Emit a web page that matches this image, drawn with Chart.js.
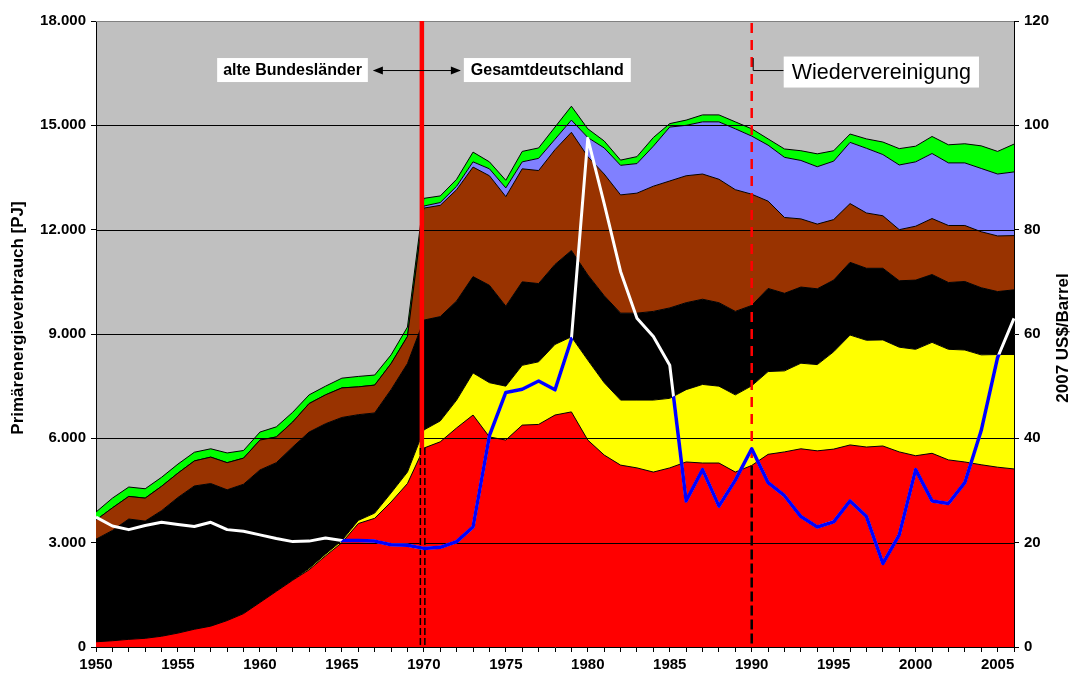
<!DOCTYPE html>
<html>
<head>
<meta charset="utf-8">
<title>Primärenergieverbrauch Deutschland 1950-2006</title>
<script src="https://cdn.jsdelivr.net/npm/chart.js@4.4.0/dist/chart.umd.min.js"></script>
<style>
  html, body { margin: 0; padding: 0; background: #fff; }
  canvas { display: block; }
</style>
</head>
<body>
<canvas id="energyChart" width="1077" height="678"></canvas>
<script>
const years = [
  1950, 1951, 1952, 1953, 1954, 1955, 1956, 1957, 1958, 1959,
  1960, 1961, 1962, 1963, 1964, 1965, 1966, 1967, 1968, 1969,
  1970, 1971, 1972, 1973, 1974, 1975, 1976, 1977, 1978, 1979,
  1980, 1981, 1982, 1983, 1984, 1985, 1986, 1987, 1988, 1989,
  1990, 1991, 1992, 1993, 1994, 1995, 1996, 1997, 1998, 1999,
  2000, 2001, 2002, 2003, 2004, 2005, 2006
];

// PJ per energy source (stacked from the bottom)
const oil = [
  150, 180, 220, 250, 310, 400, 510, 600, 760, 960,
  1280, 1600, 1920, 2220, 2620, 3000, 3550, 3700, 4170, 4700,
  5720, 5900, 6300, 6670, 6040, 5950, 6380, 6400, 6670, 6760,
  5950, 5520, 5230, 5150, 5030, 5150, 5320, 5290, 5290, 5030,
  5220, 5540, 5610, 5700, 5640, 5690, 5810, 5750, 5780, 5610,
  5500, 5570, 5380, 5320, 5240, 5170, 5120
];
const gas = [
  0, 0, 0, 0, 0, 0, 0, 0, 0, 0,
  0, 0, 10, 40, 50, 60, 90, 150, 260, 330,
  520, 600, 800, 1210, 1560, 1550, 1720, 1800, 2030, 2160,
  2300, 2080, 1870, 1950, 2070, 2000, 2080, 2260, 2210, 2220,
  2290, 2380, 2330, 2460, 2480, 2800, 3160, 3070, 3050, 3010,
  3060, 3190, 3180, 3220, 3160, 3240, 3290
];
const hardCoal = [
  2950, 3170, 3460, 3370, 3610, 3900, 4120, 4100, 3760, 3720,
  3810, 3700, 3820, 3920, 3750, 3540, 3040, 2880, 2970, 3120,
  3160, 3000, 2850, 2770, 2800, 2300, 2400, 2250, 2300, 2480,
  2450, 2500, 2500, 2500, 2550, 2600, 2500, 2450, 2400, 2400,
  2310, 2390, 2230, 2190, 2180, 2060, 2090, 2070, 2060, 1910,
  1990, 1950, 1920, 1970, 1930, 1810, 1860
];
const lignite = [
  550, 650, 650, 660, 700, 700, 720, 760, 780, 750,
  860, 740, 720, 820, 830, 850, 800, 800, 750, 780,
  3220, 3200, 3200, 3150, 3150, 3150, 3250, 3250, 3300, 3400,
  3400, 3500, 3400, 3450, 3600, 3650, 3650, 3600, 3550, 3500,
  3200, 2510, 2180, 1960, 1860, 1740, 1690, 1590, 1510, 1470,
  1550, 1610, 1640, 1610, 1610, 1600, 1560
];
const nuclear = [
  0, 0, 0, 0, 0, 0, 0, 0, 0, 0,
  0, 0, 0, 0, 0, 0, 0, 0, 0, 0,
  60, 80, 100, 150, 200, 250, 200, 350, 300, 350,
  550, 750, 850, 850, 1150, 1550, 1450, 1500, 1650, 1750,
  1670, 1610, 1730, 1680, 1650, 1680, 1760, 1860, 1760, 1860,
  1850, 1870, 1800, 1800, 1820, 1780, 1830
];
const other = [
  230, 280, 270, 270, 260, 260, 250, 240, 280, 220,
  230, 290, 280, 250, 250, 280, 300, 290, 250, 270,
  220, 190, 200, 280, 200, 220, 300, 300, 350, 400,
  250, 200, 150, 200, 250, 100, 150, 200, 200, 200,
  210, 180, 240, 280, 370, 300, 240, 270, 360, 470,
  450, 490, 520, 550, 650, 650, 800
];
// Ölpreis in 2007 US$/Barrel (right axis)
const oilPrice = [
  24.9, 23.2, 22.5, 23.3, 23.9, 23.5, 23.1, 23.9, 22.5, 22.2,
  21.5, 20.8, 20.2, 20.3, 20.9, 20.4, 20.4, 20.3, 19.6, 19.5,
  18.9, 19.1, 20.2, 23.0, 40.5, 48.8, 49.4, 51.0, 49.3, 59.0,
  97.5, 85.0, 72.0, 63.0, 59.5, 54.0, 28.0, 34.0, 27.0, 32.0,
  38.0, 31.5, 29.0, 25.0, 23.0, 24.0, 28.0, 25.0, 16.0, 21.5,
  34.0, 28.0, 27.5, 31.5, 41.5, 55.5, 63.0
];

const pjTicks = [0, 3000, 6000, 9000, 12000, 15000, 18000];
const priceTicks = [0, 20, 40, 60, 80, 100, 120];

const layerNames = ['Mineralöl', 'Erdgas', 'Steinkohle', 'Braunkohle', 'Kernenergie', 'Sonstige'];
const layerData = [oil, gas, hardCoal, lignite, nuclear, other];
const layerColors = ['#ff0000', '#ffff00', '#000000', '#993300', '#8080ff', '#00ff00'];

const FONT = "'Liberation Sans', Arial, sans-serif";

function formatPJ(v) {
  return String(v).replace(/\B(?=(\d{3})+(?!\d))/g, '.');
}

const datasets = layerData.map((d, i) => ({
  label: layerNames[i],
  data: d,
  yAxisID: 'y',
  backgroundColor: layerColors[i],
  borderColor: '#000',
  borderWidth: 1,
  fill: i === 0 ? 'origin' : '-1',
  pointRadius: 0,
  tension: 0,
  order: 2
}));

// same price series twice: white everywhere, blue where it runs over oil/gas
datasets.push({
  label: 'Ölpreis',
  data: oilPrice,
  yAxisID: 'y2',
  borderColor: '#ffffff',
  borderWidth: 3,
  borderJoinStyle: 'round',
  fill: false,
  pointRadius: 0,
  tension: 0,
  order: 1
});
datasets.push({
  label: 'Ölpreis (blau)',
  data: oilPrice,
  yAxisID: 'y2',
  borderColor: '#0000ff',
  borderWidth: 3.5,
  borderJoinStyle: 'round',
  fill: false,
  pointRadius: 0,
  tension: 0,
  order: 0
});

function textBox(ctx, text, font, x, y, align, padX, h) {
  ctx.font = font;
  const w = ctx.measureText(text).width + padX * 2;
  const left = align === 'right' ? x - w : x;
  ctx.fillStyle = '#fff';
  ctx.fillRect(left, y - h / 2, w, h);
  ctx.fillStyle = '#000';
  ctx.textAlign = 'center';
  ctx.textBaseline = 'middle';
  ctx.fillText(text, left + w / 2, y + 1);
  return left;
}

function arrowHead(ctx, x, y, dir) {
  ctx.beginPath();
  ctx.moveTo(x, y);
  ctx.lineTo(x - dir * 10, y - 4);
  ctx.lineTo(x - dir * 10, y + 4);
  ctx.closePath();
  ctx.fill();
}

const overlay = {
  id: 'overlay',
  beforeDraw(chart) {
    const {ctx, chartArea: a} = chart;
    ctx.save();
    ctx.fillStyle = '#c0c0c0';
    ctx.fillRect(a.left, a.top, a.right - a.left, a.bottom - a.top);
    ctx.restore();
  },
  beforeDatasetDraw(chart, args) {
    const {ctx, chartArea: a} = chart;
    const xs = chart.scales.x, ys = chart.scales.y;
    if (args.index === 6) {
      ctx.save();
      // gridlines over the areas
      pjTicks.forEach(v => {
        if (v === 0) return;
        const y = Math.round(ys.getPixelForValue(v)) + 0.5;
        ctx.strokeStyle = v === pjTicks[pjTicks.length - 1] ? '#808080' : '#000';
        ctx.lineWidth = 1;
        ctx.beginPath();
        ctx.moveTo(a.left, y);
        ctx.lineTo(a.right, y);
        ctx.stroke();
      });
      const oilMeta = chart.getDatasetMeta(0).data;
      // 1970: alte Bundesländer -> Gesamtdeutschland
      const i70 = years.indexOf(1970);
      const x70 = xs.getPixelForValue(i70);
      ctx.strokeStyle = '#ff0000';
      ctx.lineWidth = 4.5;
      ctx.beginPath();
      ctx.moveTo(x70 - 2, a.top);
      ctx.lineTo(x70 - 2, a.bottom);
      ctx.stroke();
      ctx.strokeStyle = '#000';
      ctx.lineWidth = 1.5;
      ctx.setLineDash([7, 3]);
      [-3.5, 1].forEach(dx => {
        ctx.beginPath();
        ctx.moveTo(x70 + dx, oilMeta[i70].y);
        ctx.lineTo(x70 + dx, a.bottom);
        ctx.stroke();
      });
      // 1990: Wiedervereinigung
      const i90 = years.indexOf(1990);
      const x90 = xs.getPixelForValue(i90);
      ctx.strokeStyle = '#ff0000';
      ctx.lineWidth = 2.5;
      ctx.setLineDash([10, 7]);
      ctx.beginPath();
      ctx.moveTo(x90, a.top + 2);
      ctx.lineTo(x90, oilMeta[i90].y);
      ctx.stroke();
      ctx.strokeStyle = '#000';
      ctx.setLineDash([10, 4]);
      ctx.beginPath();
      ctx.moveTo(x90, oilMeta[i90].y);
      ctx.lineTo(x90, a.bottom);
      ctx.stroke();
      ctx.restore();
    }
    if (args.index === 7) {
      const pts = chart.getDatasetMeta(1).data;
      ctx.save();
      ctx.beginPath();
      ctx.moveTo(pts[0].x, a.bottom);
      pts.forEach(p => ctx.lineTo(p.x, p.y));
      ctx.lineTo(pts[pts.length - 1].x, a.bottom);
      ctx.closePath();
      ctx.clip();
    }
  },
  afterDatasetDraw(chart, args) {
    if (args.index === 7) chart.ctx.restore();
  },
  afterDraw(chart) {
    const {ctx, chartArea: a} = chart;
    const xs = chart.scales.x, ys = chart.scales.y;
    const x70 = xs.getPixelForValue(years.indexOf(1970));
    const x90 = xs.getPixelForValue(years.indexOf(1990));
    const yLabel = ys.getPixelForValue(16590);
    ctx.save();
    textBox(ctx, 'alte Bundesländer', 'bold 16px ' + FONT, x70 - 56, yLabel, 'right', 6, 24);
    textBox(ctx, 'Gesamtdeutschland', 'bold 16px ' + FONT, x70 + 40, yLabel, 'left', 7, 24);
    // double arrow
    ctx.strokeStyle = '#000';
    ctx.fillStyle = '#000';
    ctx.lineWidth = 1;
    ctx.beginPath();
    ctx.moveTo(x70 - 50, yLabel + 0.5);
    ctx.lineTo(x70 + 36, yLabel + 0.5);
    ctx.stroke();
    arrowHead(ctx, x70 - 51, yLabel + 0.5, -1);
    arrowHead(ctx, x70 + 37, yLabel + 0.5, 1);
    // Wiedervereinigung
    const boxLeft = x90 + 32;
    ctx.strokeStyle = '#000';
    ctx.beginPath();
    ctx.moveTo(x90 + 1.5, yLabel - 12);
    ctx.lineTo(x90 + 1.5, yLabel + 0.5);
    ctx.lineTo(boxLeft, yLabel + 0.5);
    ctx.stroke();
    textBox(ctx, 'Wiedervereinigung', '21.5px ' + FONT, boxLeft, yLabel + 2, 'left', 8, 31);
    // axis titles, both read bottom to top
    ctx.fillStyle = '#000';
    ctx.font = 'bold 17px ' + FONT;
    ctx.textAlign = 'center';
    ctx.textBaseline = 'middle';
    ctx.save();
    ctx.translate(a.left - 78, (a.top + a.bottom) / 2 - 16);
    ctx.rotate(-Math.PI / 2);
    ctx.fillText('Primärenergieverbrauch [PJ]', 0, 0);
    ctx.restore();
    ctx.save();
    ctx.translate(a.right + 49, (a.top + a.bottom) / 2 + 4);
    ctx.rotate(-Math.PI / 2);
    ctx.fillText('2007 US$/Barrel', 0, 0);
    ctx.restore();
    ctx.restore();
  }
};

const tickFont = {family: FONT, size: 15, weight: 'bold'};

new Chart(document.getElementById('energyChart'), {
  type: 'line',
  data: {labels: years, datasets: datasets},
  options: {
    responsive: false,
    animation: false,
    devicePixelRatio: 1,
    layout: {padding: {top: 21, left: 0, right: 0, bottom: 0}},
    plugins: {legend: {display: false}, tooltip: {enabled: false}},
    scales: {
      x: {
        type: 'category',
        offset: false,
        grid: {drawOnChartArea: false, drawTicks: true, tickLength: 5, color: '#000', offset: false},
        border: {color: '#000', width: 1},
        ticks: {
          autoSkip: false, maxRotation: 0, minRotation: 0, padding: 4,
          color: '#000', font: tickFont,
          callback: (v, i) => (years[i] % 5 === 0 ? String(years[i]) : '')
        },
        afterFit: s => { s.height = 31; }
      },
      y: {
        position: 'left',
        stacked: true,
        min: pjTicks[0],
        max: pjTicks[pjTicks.length - 1],
        grid: {drawOnChartArea: false, tickLength: 5, color: '#000'},
        border: {color: '#000', width: 1},
        ticks: {stepSize: 3000, padding: 5, color: '#000', font: tickFont, callback: v => formatPJ(v)},
        afterFit: s => { s.width = 96; }
      },
      y2: {
        position: 'right',
        min: priceTicks[0],
        max: priceTicks[priceTicks.length - 1],
        grid: {drawOnChartArea: false, tickLength: 5, color: '#000'},
        border: {color: '#000', width: 1},
        ticks: {stepSize: 20, padding: 5, color: '#000', font: tickFont},
        afterFit: s => { s.width = 63; }
      }
    }
  },
  plugins: [overlay]
});
</script>
</body>
</html>
